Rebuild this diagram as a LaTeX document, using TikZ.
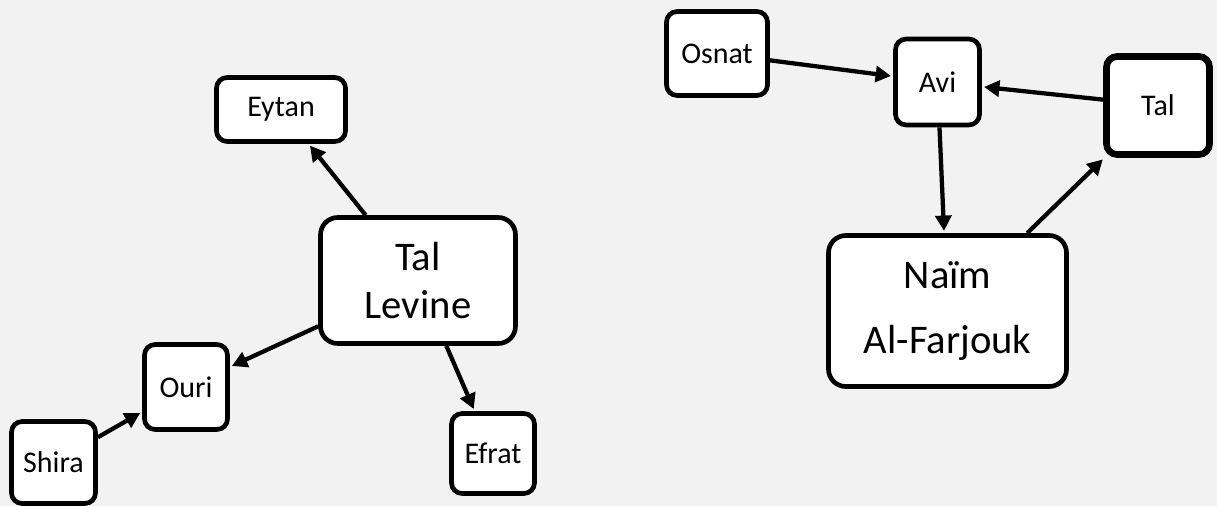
\documentclass[tikz,border=0pt]{standalone}
\usepackage{xcolor}
\usepackage{fontspec}
\setmainfont{Carlito}
\usepackage{tikz}
\usetikzlibrary{arrows.meta,positioning}
\definecolor{pageColor}{RGB}{242, 242, 242}
\definecolor{lineColor}{RGB}{0, 0, 0}

\tikzset{
    person/.style={draw=lineColor, fill=white, line width=3.5pt, rounded corners=8pt,
        align=center, inner sep=0pt, font=\fontsize{22.5}{27}\selectfont},
    bigperson/.style={person, rounded corners=13pt, font=\fontsize{30.5}{36}\selectfont},
    boxdim/.style 2 args={minimum width=#1*0.75pt, minimum height=#2*0.75pt},
    link/.style={draw=lineColor, line width=3.2pt, shorten >=1.7pt,
        -{Triangle[length=11.5pt,width=12pt]}}
}

\begin{document}
\begin{tikzpicture}[x=0.75pt, y=-0.75pt]
            % Background
            \fill[pageColor] (0,0) rectangle (1217,506);
            \useasboundingbox (0,0) rectangle (1217,506);

            % Left family
            \node[bigperson, boxdim={195}{126}] (talLevine) at (418,280.5) {Tal\\Levine};
            \node[person, boxdim={129}{64}] (eytan) at (281,109.5) {Eytan};
            \node[person, boxdim={83}{85}] (ouri) at (186,387) {Ouri};
            \node[person, boxdim={84}{82}] (shira) at (53.5,462.5) {Shira};
            \node[person, boxdim={83}{80}] (efrat) at (493,453.5) {Efrat};

            \draw[link] (talLevine) -- (eytan);
            \draw[link] (talLevine) -- (ouri);
            \draw[link] (talLevine) -- (efrat);
            \draw[link] (shira) -- (ouri);

            % Right family
            \node[bigperson, boxdim={238}{151}, font=\fontsize{30.5}{48.75}\selectfont] (naim) at (947.5,311) {Naïm\\Al-Farjouk};
            \node[person, boxdim={101}{84}] (osnat) at (717,53.5) {Osnat};
            \node[person, boxdim={84}{86}] (avi) at (937.5,82) {Avi};
            \node[person, boxdim={103}{98}, line width=5pt] (tal) at (1158,105.5) {Tal};

            \draw[link] (osnat) -- (avi);
            \draw[link] (tal) -- (avi);
            \draw[link] (avi) -- (naim);
            \draw[link] (naim) -- (tal);
        \end{tikzpicture}
\end{document}
